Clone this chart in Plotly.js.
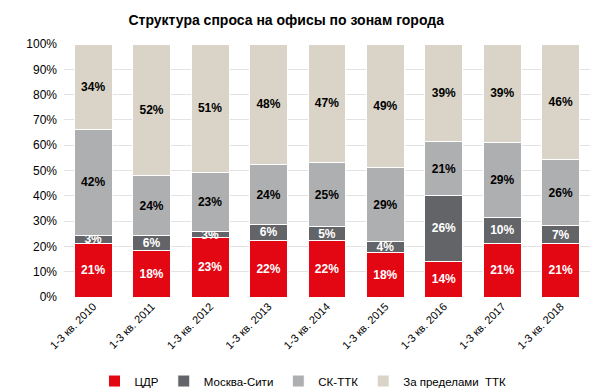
<!DOCTYPE html>
<html>
<head>
<meta charset="utf-8">
<script src="https://cdn.plot.ly/plotly-3.0.1.min.js"></script>
<style>html,body{margin:0;padding:0;background:#fff;}#chart{width:600px;height:392px;}</style>
</head>
<body>
<div id="chart"></div>
<script>
const categories = ['1-3 кв. 2010','1-3 кв. 2011','1-3 кв. 2012','1-3 кв. 2013','1-3 кв. 2014','1-3 кв. 2015','1-3 кв. 2016','1-3 кв. 2017','1-3 кв. 2018'];
const cdr      = [21.2, 18.3, 23.4, 22.4, 22.4, 17.6, 14.1, 21.2, 21.2];
const city     = [3.1, 6.0, 2.6, 6.2, 5.4, 4.4, 26.0, 10.3, 7.0];
const skttk    = [42.1, 23.6, 23.1, 23.8, 25.4, 29.0, 21.2, 29.4, 26.0];
const outside  = [33.6, 52.1, 50.9, 47.6, 46.8, 49.0, 38.7, 39.1, 45.8];
const seriesNames = ['ЦДР', 'Москва-Сити', 'СК-ТТК', 'За пределами  ТТК'];
const yTickVals = [0,10,20,30,40,50,60,70,80,90,100];
const yTickText = ['0%','10%','20%','30%','40%','50%','60%','70%','80%','90%','100%'];

const colors = ['#E30613', '#636467', '#AEAFB1', '#D9D4C7'];
const textColors = ['#ffffff', '#ffffff', '#000000', '#000000'];
const data = [cdr, city, skttk, outside].map((vals, i) => ({
  type: 'bar',
  name: seriesNames[i],
  x: categories,
  y: vals,
  text: vals.map(v => Math.round(v) + '%'),
  textposition: 'inside',
  insidetextanchor: 'middle',
  constraintext: 'none',
  cliponaxis: false,
  textangle: 0,
  textfont: {family: 'Liberation Sans, Arial, sans-serif', size: 12, color: textColors[i], weight: 'bold'},
  marker: {color: colors[i], line: {color: '#ffffff', width: 1}},
  hoverinfo: 'none'
}));

const layout = {
  width: 600, height: 392,
  barmode: 'stack',
  bargap: 0.35,
  margin: {l: 64, r: 10, t: 44, b: 95},
  paper_bgcolor: '#ffffff',
  plot_bgcolor: '#ffffff',
  font: {family: 'Liberation Sans, Arial, sans-serif', size: 12, color: '#000000'},
  title: {
    text: '<b>Структура спроса на офисы по зонам города</b>',
    font: {family: 'Liberation Sans, Arial, sans-serif', size: 14, color: '#000000'},
    xref: 'container', x: 0.477, xanchor: 'center',
    yref: 'container', y: 0.95, yanchor: 'middle'
  },
  xaxis: {
    type: 'category',
    tickangle: -45,
    tickfont: {size: 11, color: '#000000'},
    showgrid: false,
    showline: false,
    ticks: '',
    automargin: false
  },
  yaxis: {
    range: [0, 100],
    tickvals: yTickVals,
    ticktext: yTickText,
    tickfont: {size: 12, color: '#000000'},
    gridcolor: '#e3e3e3',
    gridwidth: 1,
    zeroline: false,
    showline: false,
    ticks: '',
    ticklabelstandoff: 6,
    automargin: false
  },
  showlegend: true,
  legend: {
    orientation: 'h',
    traceorder: 'normal',
    xref: 'container', x: 0.505, xanchor: 'center',
    yref: 'container', y: 0.028, yanchor: 'middle',
    font: {size: 11.5, color: '#000000'},
    itemwidth: 30,
    itemclick: false
  }
};

Plotly.newPlot('chart', data, layout, {staticPlot: true, displayModeBar: false});
</script>
</body>
</html>
